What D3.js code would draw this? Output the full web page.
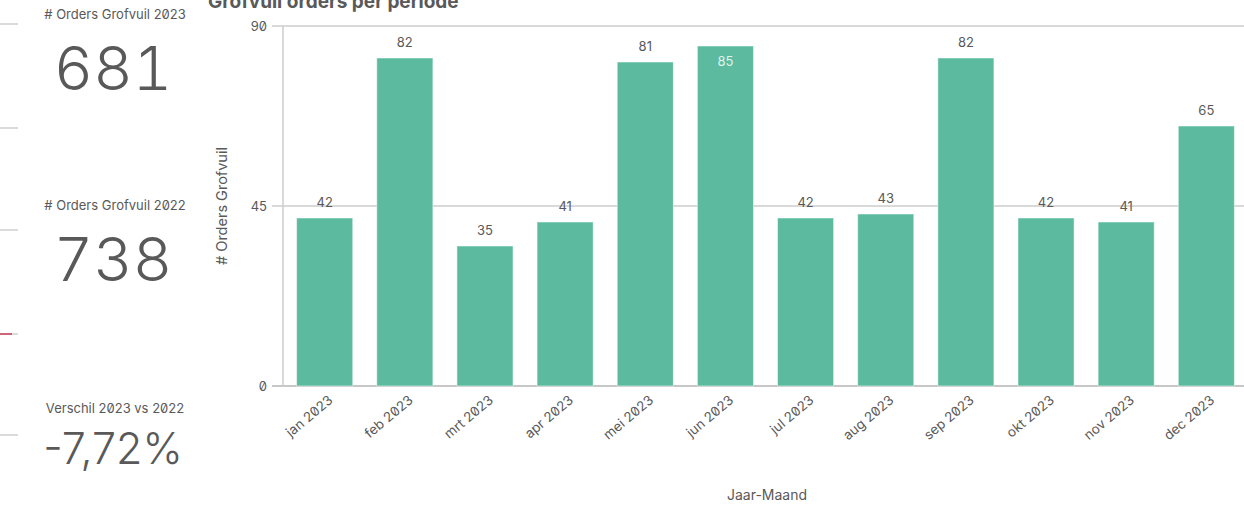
<!DOCTYPE html>
<html lang="nl">
<head>
    <meta charset="UTF-8">
    <title>Grofvuil orders per periode</title>
    <script src="https://d3js.org/d3.v7.min.js"></script>
    <style>
        body { margin: 0; background: #fff; }
        svg text { font-family: Inter, "Noto Sans", sans-serif; font-feature-settings: "zero"; fill: #595959; }
        svg text.kpi { font-feature-settings: "zero", "tnum"; }
    </style>
</head>
<body>
    <svg class="chart" width="1244" height="505"></svg>
    <script>
        // data
        const months = ['jan 2023', 'feb 2023', 'mrt 2023', 'apr 2023', 'mei 2023', 'jun 2023',
            'jul 2023', 'aug 2023', 'sep 2023', 'okt 2023', 'nov 2023', 'dec 2023'];
        const orders = [42, 82, 35, 41, 81, 85, 42, 43, 82, 42, 41, 65];
        const yTicks = [0, 45, 90];
        const kpiLabels = ['# Orders Grofvuil 2023', '# Orders Grofvuil 2022', 'Verschil 2023 vs 2022'];
        const kpiValues = ['681', '738', '-7,72%'];

        const svg = d3.select('.chart');
        const barColor = '#5cbb9e';

        // stray gridlines of the neighbouring chart at the left edge
        const stubs = [24, 128, 230, 435];
        svg.selectAll('.stub').data(stubs).enter().append('line')
            .attr('x1', 0).attr('x2', 18).attr('y1', d => d).attr('y2', d => d)
            .attr('stroke', '#cfcfcf').attr('stroke-width', 1.5);
        svg.append('line').attr('x1', 0).attr('x2', 18).attr('y1', 334).attr('y2', 334)
            .attr('stroke', '#cfcfcf').attr('stroke-width', 1.5);
        svg.append('line').attr('x1', 0).attr('x2', 12).attr('y1', 334).attr('y2', 334)
            .attr('stroke', '#d0627a').attr('stroke-width', 2);

        // KPI column
        const kpiY = [[15, 90], [206, 281], [409, 464]];
        const kpiSize = [61, 61, 43];
        kpiLabels.forEach((lab, i) => {
            svg.append('text').attr('x', 115).attr('y', kpiY[i][0] + 4)
                .attr('text-anchor', 'middle').style('font-size', '13px').text(lab);
            svg.append('text').attr('class', i < 2 ? 'kpi' : null).attr('x', 113).attr('y', kpiY[i][1])
                .attr('text-anchor', 'middle').style('font-size', kpiSize[i] + 'px')
                .style('font-weight', 300).text(kpiValues[i]);
        });

        // chart title (cut off at the top, as in the dashboard)
        svg.append('text').attr('x', 208).attr('y', 8)
            .style('font-size', '19px').style('font-weight', 700).text('Grofvuil orders per periode');

        const x = d3.scaleBand().domain(months).range([283, 1248])
            .paddingInner(0.3).paddingOuter(0.17);
        const y = d3.scaleLinear().domain([0, 90]).range([386, 26]);

        // grid + ticks
        svg.selectAll('.grid').data(yTicks).enter().append('line')
            .attr('x1', 272).attr('x2', 1244)
            .attr('y1', d => y(d)).attr('y2', d => y(d))
            .attr('stroke', d => d === 0 ? '#b5b5b5' : '#cccccc').attr('stroke-width', 1.5);
        svg.append('line').attr('x1', 283).attr('x2', 283)
            .attr('y1', y(90)).attr('y2', y(0)).attr('stroke', '#cccccc').attr('stroke-width', 1.5);
        svg.selectAll('.ytick').data(yTicks).enter().append('text')
            .attr('x', 267).attr('y', d => y(d) + 5).attr('text-anchor', 'end')
            .style('font-size', '13px').text(d => d);

        // bars
        svg.selectAll('.bar').data(orders).enter().append('rect')
            .attr('x', (d, i) => x(months[i])).attr('width', x.bandwidth())
            .attr('y', d => y(d)).attr('height', d => y(0) - y(d))
            .attr('fill', barColor).attr('stroke', '#ffffff').attr('stroke-opacity', 0.5);

        // value labels (inside the bar when there is no room above it)
        const inside = d => y(d) - 22 < y(90);
        svg.selectAll('.val').data(orders).enter().append('text')
            .attr('x', (d, i) => x(months[i]) + x.bandwidth() / 2)
            .attr('y', d => inside(d) ? y(d) + 20 : y(d) - 11)
            .attr('text-anchor', 'middle').style('font-size', '13px')
            .style('fill', d => inside(d) ? '#dff2eb' : '#595959')
            .text(d => d);

        // x tick labels
        svg.selectAll('.xtick').data(months).enter().append('text')
            .attr('transform', d => `translate(${x(d) + x.bandwidth() / 2 + 6}, ${y(0) + 12}) rotate(-40)`)
            .attr('text-anchor', 'end').attr('dy', '0.35em')
            .style('font-size', '13.5px').text(d => d);

        // axis titles
        svg.append('text').attr('transform', `translate(227, 206) rotate(-90)`)
            .attr('text-anchor', 'middle').style('font-size', '14.5px').text('# Orders Grofvuil');
        svg.append('text').attr('x', 767).attr('y', 500)
            .attr('text-anchor', 'middle').style('font-size', '14px').text('Jaar-Maand');
    </script>
</body>
</html>
